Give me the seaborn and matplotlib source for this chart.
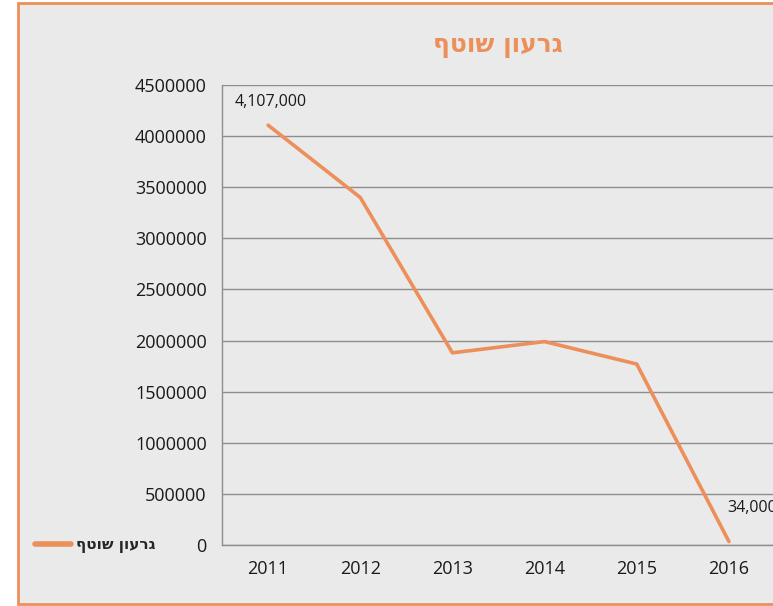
import matplotlib
matplotlib.use("Agg")
import matplotlib.pyplot as plt
import seaborn as sns
import pandas as pd
from matplotlib.patches import Rectangle
from matplotlib.lines import Line2D

years = ["2011", "2012", "2013", "2014", "2015", "2016"]
values = [4107000, 3400000, 1880000, 1990000, 1770000, 34000]
series_name = "גרעון שוטף"
title = "גרעון שוטף"
yticks = [0, 500000, 1000000, 1500000, 2000000, 2500000, 3000000, 3500000, 4000000, 4500000]

def rtl(s):
    return s[::-1]

sns.set_theme(style="white")
plt.rcParams['font.family'] = ['Open Sans', 'Noto Sans', 'DejaVu Sans']

orange = "#EC8F5B"
bg = "#EAEAEA"
grid = "#8E8E8E"

df = pd.DataFrame({"year": years, "value": values})

fig = plt.figure(figsize=(7.73, 6.06), dpi=100)
fig.patch.set_facecolor("white")
# chart area background + border
fig.patches.append(Rectangle((18/773, 2/606), 1.0, 601/606, transform=fig.transFigure,
                             facecolor=bg, edgecolor=orange, linewidth=2, zorder=-10))

ax = fig.add_axes([222/773, 61/606, 553/773, 460/606])
ax.set_facecolor(bg)
sns.lineplot(data=df, x="year", y="value", ax=ax, color=orange, linewidth=2.6, sort=False)

ax.set_xlim(-0.5, 5.5)
ax.set_ylim(0, 4500000)
ax.set_yticks(yticks)
ax.set_yticklabels([str(v) for v in yticks], fontsize=13, color="#1a1a1a")
ax.set_xticks(range(len(years)))
ax.set_xticklabels(years, fontsize=13, color="#1a1a1a")
ax.set_xlabel("")
ax.set_ylabel("")
ax.yaxis.grid(True, color=grid, linewidth=1)
ax.set_axisbelow(True)
ax.tick_params(axis="y", length=7, width=1, color=grid, pad=4)
ax.tick_params(axis="x", length=0, pad=11)
for s in ["top", "right"]:
    ax.spines[s].set_visible(False)
for s in ["left", "bottom"]:
    ax.spines[s].set_color(grid)
    ax.spines[s].set_linewidth(1)

# data labels
ax.annotate(f"{values[0]:,}", xy=(0, values[0]), xytext=(-24, 17), textcoords="offset points",
            fontsize=11.5, color="#1a1a1a", ha="left", va="center")
ax.annotate(f"{values[-1]:,}", xy=(5, values[-1]), xytext=(-1, 24), textcoords="offset points",
            fontsize=11.5, color="#1a1a1a", ha="left", va="center")

fig.text(498/773, 1 - 46/606, rtl(title), fontsize=18, fontweight="bold", color=orange,
         ha="center", va="center", family=['DejaVu Sans'])

handle = Line2D([], [], color=orange, linewidth=4, solid_capstyle="round")
leg = fig.legend([handle], [rtl(series_name)], loc="center left",
                 bbox_to_anchor=(21/773, 1 - 545/606), frameon=False,
                 handlelength=2.4, handletextpad=0.3,
                 prop={"weight": "bold", "size": 11, "family": ['DejaVu Sans']})

fig.savefig("out.png", dpi=100, facecolor=fig.get_facecolor())
